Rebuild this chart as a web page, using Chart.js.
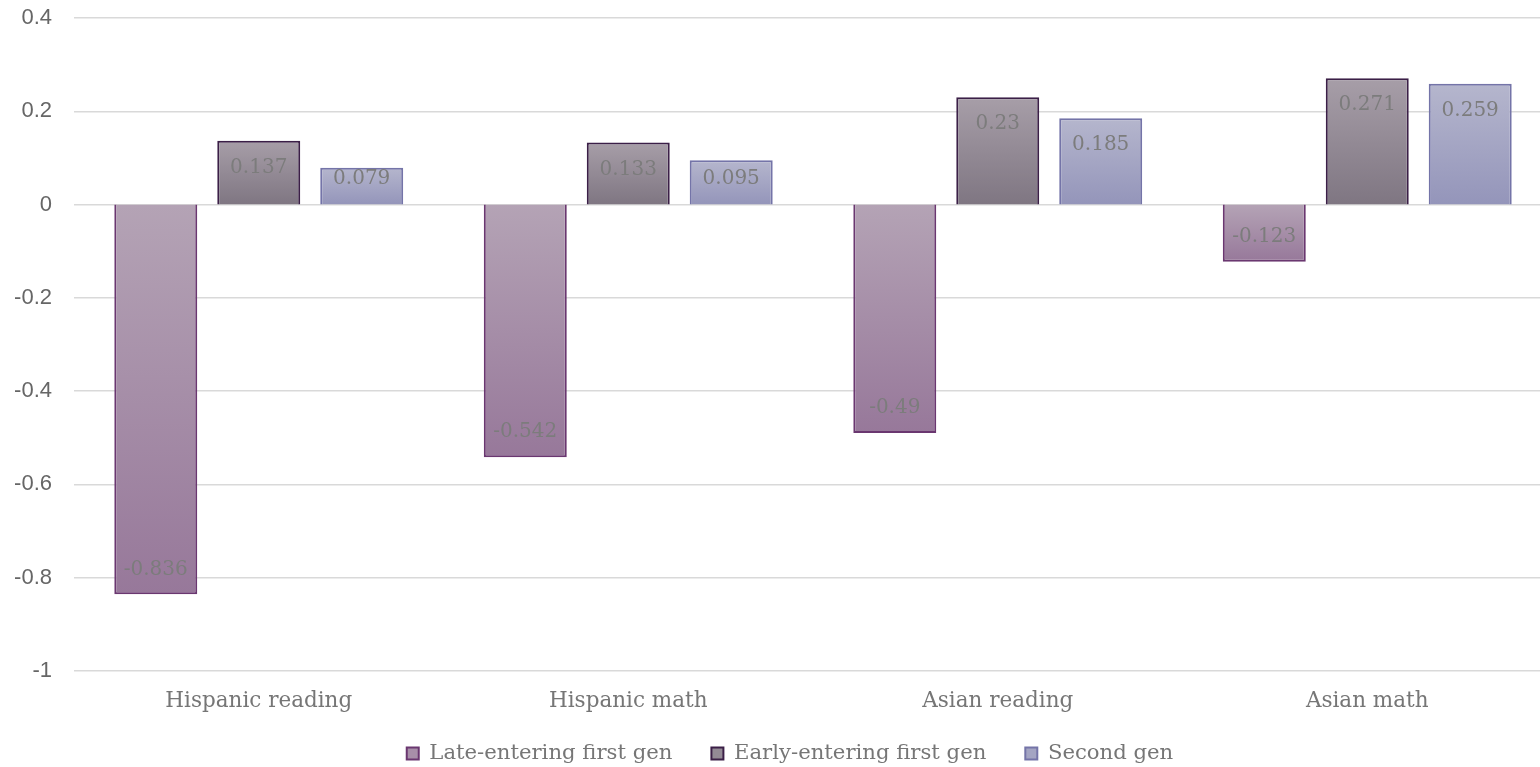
<!DOCTYPE html>
<html>
<head>
<meta charset="utf-8">
<script src="https://cdn.jsdelivr.net/npm/chart.js@4/dist/chart.umd.min.js"></script>
<style>
  html, body { margin: 0; padding: 0; background: #ffffff; overflow: hidden; }
  #wrap { width: 1552px; height: 774px; position: relative; }
</style>
</head>
<body>
<div id="wrap"><canvas id="c"></canvas></div>
<script>
// Gap in test scores relative to third generation, by group and subject
const categories = ['Hispanic reading', 'Hispanic math', 'Asian reading', 'Asian math'];
const lateEntering = [-0.836, -0.542, -0.49, -0.123];
const earlyEntering = [0.137, 0.133, 0.23, 0.271];
const secondGen = [0.079, 0.095, 0.185, 0.259];
const seriesNames = ['Late-entering first gen', 'Early-entering first gen', 'Second gen'];

const palettes = [
  { top: '#b4a3b5', bottom: '#97789a', border: '#6a3770', legend: '#a88fa9' },
  { top: '#a79ea8', bottom: '#7f7682', border: '#3b1f47', legend: '#938a95' },
  { top: '#b5b6cd', bottom: '#9495ba', border: '#7474a8', legend: '#a4a5c3' }
];

const serifFont = "'DejaVu Serif', serif";
const sansFont = "'Liberation Sans', Arial, sans-serif";

function barGradient(idx) {
  return function (ctx) {
    const chart = ctx.chart;
    const p = palettes[idx];
    const y = chart.scales && chart.scales.y;
    if (!y || ctx.type !== 'data') return p.legend;
    const v = ctx.raw;
    const y0 = y.getPixelForValue(0);
    const y1 = y.getPixelForValue(v);
    const top = Math.min(y0, y1), bottom = Math.max(y0, y1);
    if (!isFinite(top) || bottom - top < 1) return p.legend;
    const g = chart.ctx.createLinearGradient(0, top, 0, bottom);
    g.addColorStop(0, p.top);
    g.addColorStop(1, p.bottom);
    return g;
  };
}

// Value labels placed just inside the outer end of each bar
const valueLabels = {
  id: 'valueLabels',
  afterDatasetsDraw(chart) {
    const ctx = chart.ctx;
    const yScale = chart.scales.y;
    const base = yScale.getPixelForValue(0);
    ctx.save();
    ctx.font = "20px " + serifFont;
    ctx.fillStyle = '#7c7c7c';
    ctx.textAlign = 'center';
    ctx.textBaseline = 'middle';
    chart.data.datasets.forEach((ds, di) => {
      const meta = chart.getDatasetMeta(di);
      meta.data.forEach((bar, i) => {
        const v = ds.data[i];
        let y;
        if (v >= 0) {
          y = Math.min(bar.y + 27, base - 26);
        } else {
          y = Math.max(bar.y - 25, base + 26);
        }
        ctx.fillText(String(v), bar.x, y);
      });
    });
    ctx.restore();
  }
};

// Nudge the legend row a little to the right
const legendShift = {
  id: 'legendShift',
  afterLayout(chart) {
    if (chart.legend) {
      chart.legend.left += 14;
      chart.legend.right += 14;
    }
  }
};

const datasets = [lateEntering, earlyEntering, secondGen].map((vals, i) => ({
  label: seriesNames[i],
  data: vals,
  backgroundColor: barGradient(i),
  borderColor: palettes[i].border,
  borderWidth: 2,
  borderSkipped: 'start',
  categoryPercentage: 0.836,
  barPercentage: 0.806
}));

new Chart(document.getElementById('c'), {
  type: 'bar',
  data: { labels: categories, datasets },
  plugins: [valueLabels, legendShift],
  options: {
    responsive: true,
    maintainAspectRatio: false,
    animation: false,
    layout: { padding: { top: 18, right: 0, bottom: 0, left: 0 } },
    plugins: {
      tooltip: { enabled: false },
      legend: {
        position: 'bottom',
        labels: {
          font: { family: serifFont, size: 21.2 },
          color: '#767676',
          boxWidth: 12,
          boxHeight: 12,
          padding: 12,
          generateLabels(chart) {
            const n = chart.data.datasets.length;
            return chart.data.datasets.map((ds, i) => ({
              // wider spacing after every entry but the last
              text: i < n - 1 ? ds.label + '    ' : ds.label,
              fillStyle: palettes[i].legend,
              strokeStyle: palettes[i].border,
              lineWidth: 2,
              fontColor: '#767676',
              datasetIndex: i,
              hidden: false
            }));
          }
        }
      }
    },
    scales: {
      x: {
        grid: { display: false, drawTicks: false },
        border: { display: false },
        ticks: {
          font: { family: serifFont, size: 21.5 },
          color: '#767676',
          padding: 18
        },
        afterFit(scale) { scale.height = 60; }
      },
      y: {
        min: -1,
        max: 0.4,
        ticks: {
          stepSize: 0.2,
          font: { family: sansFont, size: 22 },
          color: '#666666',
          padding: 22,
          callback: (v) => {
            const r = Math.round(v * 10) / 10;
            return r === 0 ? '0' : String(r);
          }
        },
        grid: { color: '#d9d9d9', lineWidth: 1.5, drawTicks: false },
        border: { display: false },
        afterFit(scale) {
          scale.width = 74;
          scale.paddingTop = 0;
          scale.paddingBottom = 0;
        }
      }
    }
  }
});
</script>
</body>
</html>
